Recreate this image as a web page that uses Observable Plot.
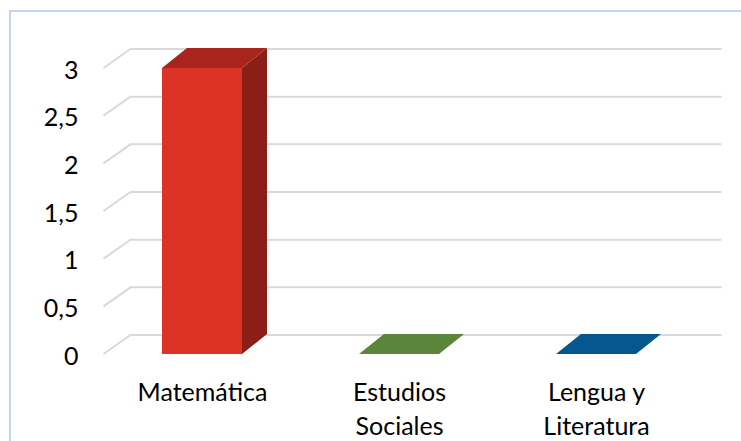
<!DOCTYPE html>
<html><head><meta charset="utf-8">
<script src="https://cdn.jsdelivr.net/npm/d3@7"></script>
<script src="https://cdn.jsdelivr.net/npm/@observablehq/plot@0.6"></script>
<style>
body{margin:0;background:#fff;}
#wrap{position:relative;width:741px;height:441px;overflow:hidden;background:#fff;}
#frame{position:absolute;left:9px;top:10px;width:800px;height:500px;border:2px solid #c6d4ee;box-sizing:border-box;pointer-events:none;}
#chart{position:absolute;left:0;top:0;}
</style></head><body><div id="wrap"><div id="chart"></div><div id="frame"></div></div>
<script>
// ---- data ----
const subjects = ["Matemática", "Estudios Sociales", "Lengua y Literatura"];
const subjectLabels = ["Matemática", "Estudios\nSociales", "Lengua y\nLiteratura"];
const values = [3, 0, 0];
const yTicks = [0, 0.5, 1, 1.5, 2, 2.5, 3];
const yTickLabels = ["0", "0,5", "1", "1,5", "2", "2,5", "3"];

// ---- styles ----
const frontColors = ["#dd3326", "#6c9e45", "#0a62a3"];
const topColors   = ["#a9241c", "#5b853a", "#06578f"];
const sideColors  = ["#8b1f18", "#4a6e30", "#044877"];
const WALL_DX = 27, WALL_DY = -19;
const BAR_DX = 25, BAR_DY = -20;

const rows = subjects.map((s, i) => ({subject: s, label: subjectLabels[i], value: values[i], i}));

function gridRender(index, scales, vals, dim) {
  const g = d3.create("svg:g");
  const y = scales.y;
  const xl = dim.marginLeft, xr = dim.width - dim.marginRight;
  for (const i of index) {
    const yy = y(yTicks[i]);
    g.append("path")
      .attr("d", `M${xl},${yy}L${xl + WALL_DX},${yy + WALL_DY}L${xr + WALL_DX},${yy + WALL_DY}`)
      .attr("fill", "none").attr("stroke", "#d9d9d9").attr("stroke-width", 2);
  }
  return g.node();
}

function barRender(index, scales, vals, dim) {
  const g = d3.create("svg:g");
  const x = scales.x, y = scales.y;
  const bw = x.bandwidth();
  for (const i of index) {
    const d = rows[i];
    const x0 = x(d.subject), x1 = x0 + bw;
    const yb = y(0), yt = y(d.value);
    const poly = (pts, fill) => g.append("polygon").attr("points", pts.map(p => p.join(",")).join(" ")).attr("fill", fill);
    if (yb - yt > 0) {
      poly([[x1, yb], [x1, yt], [x1 + BAR_DX, yt + BAR_DY], [x1 + BAR_DX, yb + BAR_DY]], sideColors[d.i]);
      poly([[x0, yt], [x1, yt], [x1, yb], [x0, yb]], frontColors[d.i]);
    }
    poly([[x0, yt], [x1, yt], [x1 + BAR_DX, yt + BAR_DY], [x0 + BAR_DX, yt + BAR_DY]], topColors[d.i]);
  }
  return g.node();
}

const chart = Plot.plot({
  width: 741,
  height: 441,
  marginLeft: 103.5,
  marginRight: 46.5,
  marginTop: 68,
  marginBottom: 87,
  style: {fontFamily: "Lato, 'Open Sans', sans-serif", fontSize: "25px", color: "#000", background: "transparent"},
  x: {type: "band", domain: subjects, paddingInner: 0.594, paddingOuter: 0.297, axis: null},
  y: {domain: [0, 3], axis: null},
  marks: [
    Plot.ruleY(yTicks, {y: d => d, render: gridRender}),
    Plot.barY(rows, {x: "subject", y: "value", render: barRender}),
    Plot.axisY(yTicks, {
      anchor: "left", tickSize: 0, tickPadding: 25.5, dy: 2, label: null,
      fontSize: 25, fill: "#000",
      tickFormat: d => yTickLabels[yTicks.indexOf(d)]
    }),
    Plot.text(rows, {
      x: "subject", text: "label", frameAnchor: "bottom", lineAnchor: "top",
      dy: 23, lineHeight: 1.34, fontSize: 25, fill: "#000"
    })
  ]
});
document.getElementById("chart").appendChild(chart);
</script>
</body></html>
